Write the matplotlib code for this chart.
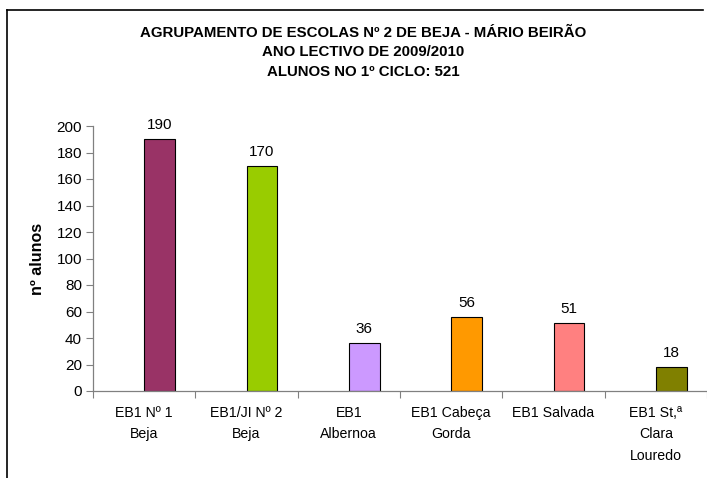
import matplotlib
matplotlib.use("Agg")
import matplotlib.pyplot as plt
from matplotlib.lines import Line2D
import numpy as np

plt.rcParams['font.family'] = ['Liberation Sans', 'DejaVu Sans']

categories = ["EB1 Nº 1\nBeja", "EB1/JI Nº 2\nBeja", "EB1\nAlbernoa",
              "EB1 Cabeça\nGorda", "EB1 Salvada", "EB1 St,ª\nClara\nLouredo"]
values = [190, 170, 36, 56, 51, 18]
colors = ["#993366", "#99CC00", "#CC99FF", "#FF9900", "#FF8080", "#808000"]
yticks = [0, 20, 40, 60, 80, 100, 120, 140, 160, 180, 200]
title_lines = ["AGRUPAMENTO DE ESCOLAS Nº 2 DE BEJA - MÁRIO BEIRÃO",
               "ANO LECTIVO DE 2009/2010",
               "ALUNOS NO 1º CICLO: 521"]
ylabel = "nº alunos"

W, H = 707, 478
fig = plt.figure(figsize=(W / 100, H / 100), dpi=100)
ax = fig.add_axes([93 / W, 1 - 391 / H, 1 - 93 / W, (391 - 126) / H])

x = np.arange(len(values))
bars = ax.bar(x, values, width=0.30, align='edge', color=colors,
              edgecolor='black', linewidth=0.8)
for b, v in zip(bars, values):
    ax.annotate(str(v), (b.get_x() + b.get_width() / 2, v),
                xytext=(0, 5), textcoords='offset points',
                ha='center', va='bottom', fontsize=11)

ax.set_xlim(-0.5, len(values) - 0.5)
ax.set_ylim(0, 200)
ax.set_yticks(yticks)
ax.set_yticklabels([str(t) for t in yticks], fontsize=11)
ax.set_xticks(x)
ax.set_xticklabels(categories, fontsize=10.2, linespacing=1.65, va='top')
ax.set_xticks(np.arange(len(values) + 1) - 0.5, minor=True)
ax.tick_params(axis='x', which='major', length=0, pad=11)
ax.tick_params(axis='x', which='minor', length=5, color='#808080', width=0.8, direction='out')
ax.tick_params(axis='y', length=5, color='#808080', width=0.8, direction='out', pad=3)

for s in ['top', 'right']:
    ax.spines[s].set_visible(False)
for s in ['left', 'bottom']:
    ax.spines[s].set_color('#808080')
    ax.spines[s].set_linewidth(0.9)

ax.set_ylabel(ylabel, fontsize=11.5, fontweight='bold', labelpad=8)

ys = [33, 52, 72]
for t, yy in zip(title_lines, ys):
    fig.text(363 / W, 1 - yy / H, t, ha='center', va='center',
             fontsize=10.8, fontweight='bold')

# outer chart border (top and left visible)
fig.add_artist(Line2D([7 / W, 703 / W], [1 - 10 / H, 1 - 10 / H],
                      transform=fig.transFigure, color='black', linewidth=1.2))
fig.add_artist(Line2D([7 / W, 7 / W], [0, 1 - 10 / H],
                      transform=fig.transFigure, color='black', linewidth=1.2))

fig.savefig("out.png", dpi=100)
